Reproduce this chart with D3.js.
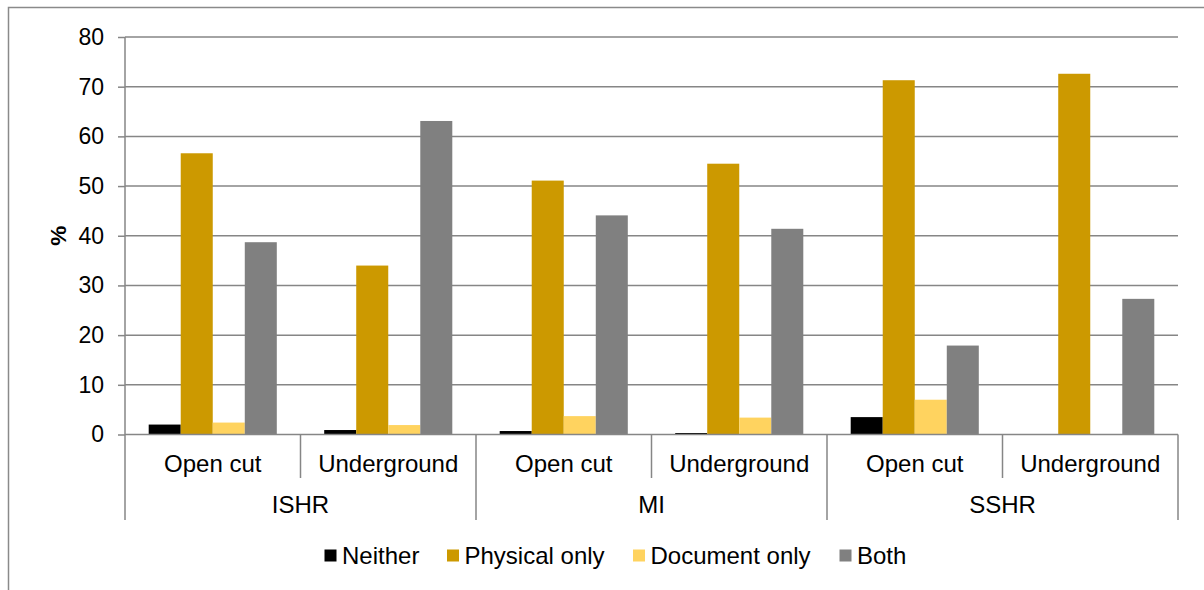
<!DOCTYPE html>
<html>
<head>
<meta charset="utf-8">
<script src="https://cdn.jsdelivr.net/npm/d3@7"></script>
<style>
  html, body { margin: 0; padding: 0; background: #ffffff; }
  svg { display: block; font-family: "Liberation Sans", Arial, sans-serif; }
</style>
</head>
<body>
<svg id="chart" width="1204" height="590"></svg>
<script>
// Regions and mining types (two-level category axis)
const regions = ["ISHR", "MI", "SSHR"];
const miningTypes = ["Open cut", "Underground"];
const seriesNames = ["Neither", "Physical only", "Document only", "Both"];
const seriesColors = ["#000000", "#CC9900", "#FFD35F", "#808080"];

// Percentages per region/mining type, in order:
// ISHR open cut, ISHR underground, MI open cut, MI underground, SSHR open cut, SSHR underground
const neither      = [2.0, 0.9, 0.7, 0.3, 3.5, 0.0];
const physicalOnly = [56.6, 34.0, 51.1, 54.5, 71.3, 72.6];
const documentOnly = [2.4, 1.9, 3.7, 3.4, 7.0, 0.0];
const both         = [38.7, 63.1, 44.1, 41.4, 17.9, 27.3];

const yTicks = [0, 10, 20, 30, 40, 50, 60, 70, 80];
const yLabel = "%";

const seriesValues = [neither, physicalOnly, documentOnly, both];

const categories = [];
regions.forEach(r => miningTypes.forEach(m => categories.push({ region: r, type: m, key: r + "|" + m })));

const svg = d3.select("#chart");
const gridColor = "#868686";

const plot = { left: 125, right: 1178, top: 37, bottom: 434.5 };

// outer chart frame
svg.append("rect")
  .attr("x", 8.5).attr("y", 7.5)
  .attr("width", 1210).attr("height", 600)
  .attr("fill", "none").attr("stroke", "#8a8a8a").attr("stroke-width", 1.5);

const y = d3.scaleLinear().domain([0, 80]).range([plot.bottom, plot.top]);

const x0 = d3.scaleBand()
  .domain(categories.map(c => c.key))
  .range([plot.left, plot.right])
  .paddingInner(0).paddingOuter(0);

const xRegion = d3.scaleBand()
  .domain(regions)
  .range([plot.left, plot.right])
  .paddingInner(0).paddingOuter(0);

const x1 = d3.scaleBand()
  .domain(seriesNames)
  .range([0, x0.bandwidth()])
  .paddingInner(0).paddingOuter(0.74);

// horizontal gridlines
svg.append("g").selectAll("line")
  .data(yTicks.filter(t => t > 0))
  .join("line")
  .attr("x1", plot.left).attr("x2", plot.right)
  .attr("y1", d => y(d)).attr("y2", d => y(d))
  .attr("stroke", gridColor).attr("stroke-width", 1.5);

// bars
const barData = [];
categories.forEach((c, i) => {
  seriesNames.forEach((s, j) => {
    barData.push({ key: c.key, series: s, value: seriesValues[j][i], color: seriesColors[j] });
  });
});

svg.append("g").selectAll("rect")
  .data(barData)
  .join("rect")
  .attr("x", d => x0(d.key) + x1(d.series))
  .attr("y", d => y(d.value))
  .attr("width", x1.bandwidth())
  .attr("height", d => y(0) - y(d.value))
  .attr("fill", d => d.color);

// y axis
const yAxis = d3.axisLeft(y).tickValues(yTicks).tickSize(7).tickPadding(14).tickFormat(d3.format("d"));
const yg = svg.append("g").attr("transform", `translate(${plot.left},0)`).call(yAxis);
yg.select(".domain").remove();
yg.selectAll(".tick line").attr("stroke", gridColor).attr("stroke-width", 1.5);
yg.selectAll(".tick text").attr("font-size", 23).attr("fill", "#000")
  .attr("font-family", "Liberation Sans, Arial, sans-serif");

// vertical axis line, extended down through the category rows
svg.append("line")
  .attr("x1", plot.left).attr("x2", plot.left)
  .attr("y1", plot.top).attr("y2", 520)
  .attr("stroke", gridColor).attr("stroke-width", 1.5);

// baseline
svg.append("line")
  .attr("x1", plot.left).attr("x2", plot.right)
  .attr("y1", y(0)).attr("y2", y(0))
  .attr("stroke", gridColor).attr("stroke-width", 1.5);

// separators between mining types
svg.append("g").selectAll("line")
  .data(categories.filter(c => c.type !== miningTypes[0]))
  .join("line")
  .attr("x1", d => x0(d.key)).attr("x2", d => x0(d.key))
  .attr("y1", y(0)).attr("y2", 478)
  .attr("stroke", gridColor).attr("stroke-width", 1.5);

// separators between regions (and right end)
svg.append("g").selectAll("line")
  .data(regions.slice(1).map(r => xRegion(r)).concat([plot.right]))
  .join("line")
  .attr("x1", d => d).attr("x2", d => d)
  .attr("y1", y(0)).attr("y2", 520)
  .attr("stroke", gridColor).attr("stroke-width", 1.5);

// mining type labels
svg.append("g").selectAll("text")
  .data(categories)
  .join("text")
  .attr("x", d => x0(d.key) + x0.bandwidth() / 2)
  .attr("y", 472)
  .attr("text-anchor", "middle")
  .attr("font-size", 24)
  .text(d => d.type);

// region labels
svg.append("g").selectAll("text")
  .data(regions)
  .join("text")
  .attr("x", d => xRegion(d) + xRegion.bandwidth() / 2)
  .attr("y", 513)
  .attr("text-anchor", "middle")
  .attr("font-size", 24)
  .text(d => d);

// y axis title
svg.append("text")
  .attr("transform", `translate(66,${y(40)}) rotate(-90)`)
  .attr("text-anchor", "middle")
  .attr("font-size", 22.5)
  .attr("font-weight", "bold")
  .text(yLabel);

// legend
const legendX = [324.5, 447, 633, 839.5];
const legend = svg.append("g").selectAll("g")
  .data(seriesNames)
  .join("g")
  .attr("transform", (d, i) => `translate(${legendX[i]},549.5)`);
legend.append("rect")
  .attr("width", 12).attr("height", 12)
  .attr("fill", (d, i) => seriesColors[i]);
legend.append("text")
  .attr("x", 17.5).attr("y", 14.5)
  .attr("font-size", 24)
  .text(d => d);
</script>
</body>
</html>
